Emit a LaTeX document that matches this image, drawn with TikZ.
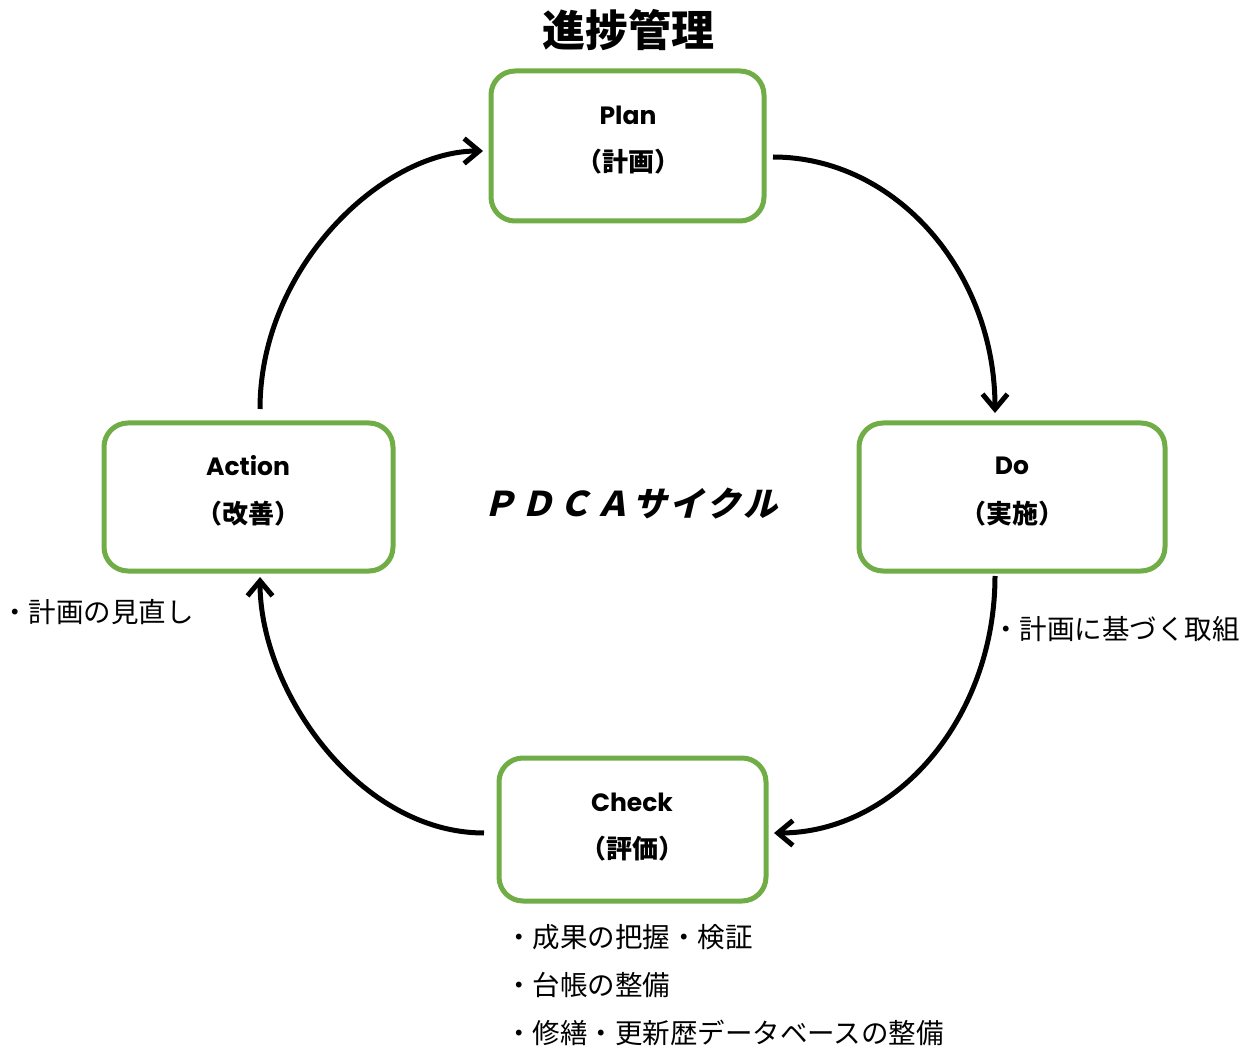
\documentclass[tikz,border=0pt]{standalone}
\usepackage{fontspec}
\usetikzlibrary{arrows.meta}
\newfontfamily\jp{Noto Sans CJK JP}
\newfontfamily\jpsl{Noto Sans CJK JP}[FakeSlant=0.25,LetterSpace=10]
\newfontfamily\lat{Poppins}
\definecolor{boxgreen}{HTML}{70AD47}
\begin{document}
\begin{tikzpicture}[x=1pt,y=-1pt,
  box/.style={draw=boxgreen, line width=5pt, rounded corners=24pt, fill=white, inner sep=0pt},
  latin/.style={font=\lat\bfseries\fontsize{25}{30}\selectfont, inner sep=0pt},
  jpbold/.style={font=\jp\bfseries\fontsize{26}{30}\selectfont, inner sep=0pt},
  note/.style={font=\jp\fontsize{27.5}{32}\selectfont, inner sep=0pt, anchor=west},
  flow/.style={line width=5pt, -{Straight Barb[length=15pt,width=25pt]}}]
\useasboundingbox (0,0) rectangle (1251,1048);

% title
\node[font=\jp\bfseries\fontsize{43}{50}\selectfont, inner sep=0pt] (title) at (628,30) {進捗管理};

% boxes
\node[box, minimum width=273pt, minimum height=150pt] (plan) at (627.5,146) {};
\node[latin] (planen) at (628,115) {Plan};
\node[jpbold] (planjp) at (628,162) {（計画）};

\node[box, minimum width=306pt, minimum height=148pt] (do) at (1012,497) {};
\node[latin] (doen) at (1012,466) {Do};
\node[jpbold] (dojp) at (1012,514) {（実施）};

\node[box, minimum width=267pt, minimum height=143pt] (check) at (632.5,829.5) {};
\node[latin] (checken) at (632,802) {Check};
\node[jpbold] (checkjp) at (632,849) {（評価）};

\node[box, minimum width=289pt, minimum height=148pt] (action) at (248.5,497) {};
\node[latin] (actionen) at (248,466) {Action};
\node[jpbold] (actionjp) at (248,514) {（改善）};

% centre label
\node[font=\jpsl\bfseries\fontsize{34}{38}\selectfont, inner sep=0pt] (cycle) at (630,504) {ＰＤＣＡサイクル};

% connector ends
\coordinate (pd1) at (773,157);
\coordinate (pd2) at (995,413);
\coordinate (dc1) at (995,576);
\coordinate (dc2) at (774,833);
\coordinate (ca1) at (484,833);
\coordinate (ca2) at (260,577);
\coordinate (ap1) at (260,409);
\coordinate (ap2) at (483,151);

\draw[flow] (pd1) .. controls (896,157) and (995,272) .. (pd2);
\draw[flow] (dc1) .. controls (995,718) and (896,833) .. (dc2);
\draw[flow] (ca1) .. controls (360,833) and (260,692) .. (ca2);
\draw[flow] (ap1) .. controls (260,267) and (383,151) .. (ap2);

% notes
\node[note] (actnote) at (1,612) {・計画の見直し};
\node[note] (donote) at (992,629) {・計画に基づく取組};
\node[note] (chk1) at (505,937) {・成果の把握・検証};
\node[note] (chk2) at (505,985) {・台帳の整備};
\node[note] (chk3) at (505,1033) {・修繕・更新歴データベースの整備};
\end{tikzpicture}
\end{document}
